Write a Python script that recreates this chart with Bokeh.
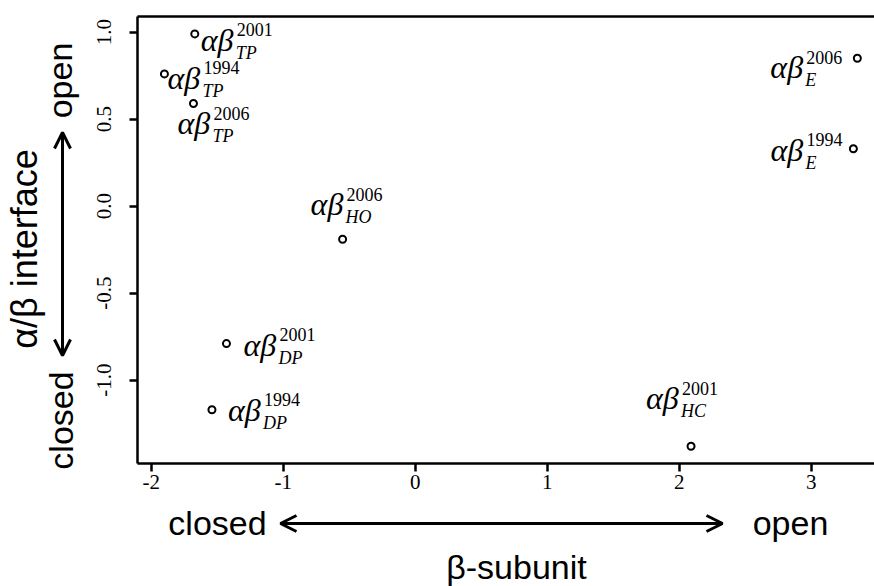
import math
from bokeh.plotting import figure
from bokeh.layouts import row, column
from bokeh.models import ColumnDataSource, Range1d, LinearAxis, FixedTicker, Label, Arrow, OpenHead
from bokeh.core.properties import value
from bokeh.embed import file_html
from bokeh.resources import INLINE

# ---------------- data ----------------
complex_names = ["TP", "TP", "TP", "E", "E", "HO", "HC", "DP", "DP"]
years = ["2001", "1994", "2006", "2006", "1994", "2006", "2001", "2001", "1994"]
beta_subunit = [-1.67, -1.90, -1.68, 3.35, 3.32, -0.55, 2.09, -1.43, -1.54]
ab_interface = [0.99, 0.76, 0.59, 0.85, 0.33, -0.19, -1.38, -0.79, -1.17]
x_ticks = [-2, -1, 0, 1, 2, 3]
x_tick_labels = ["-2", "-1", "0", "1", "2", "3"]
y_ticks = [-1.0, -0.5, 0.0, 0.5, 1.0]
y_tick_labels = ["-1.0", "-0.5", "0.0", "0.5", "1.0"]

# ---------------- label placement (pixel offsets of the "αβ" anchor) ----------------
label_dx = [6, 3, -16, -87, -83, -32, -45, 17, 16]
label_dy = [15, 13, 29, 18, 10, -26, -39, 10, 9]
AB_SIZE, SS_SIZE = 32, 18
AB_FIX, SS_FIX = -9, -5          # baseline corrections for the text renderer
SUP_DX, SUP_DY = 36, -14
SUB_DX, SUB_DY = 35, 9

# ---------------- page geometry ----------------
W, H = 874, 586
LEFT_W = 80              # strip with the vertical arrow
MAIN_H = 500             # main plot height; strip with horizontal arrow below
FL, FT, FB = 137, 16, 463
X0, X1 = -2.104, 3.480
Y0, Y1 = -1.479, 1.090

main = figure(width=W - LEFT_W, height=MAIN_H, x_range=Range1d(X0, X1), y_range=Range1d(Y0, Y1),
              output_backend="svg", toolbar_location=None,
              min_border_left=FL - LEFT_W, min_border_right=0, min_border_top=FT,
              min_border_bottom=MAIN_H - FB)
main.outline_line_color = None
main.xgrid.visible = False
main.ygrid.visible = False

for ax in (main.xaxis[0], main.yaxis[0]):
    ax.axis_line_width = 2.5
    ax.axis_line_color = "black"
    ax.major_tick_line_width = 2.5
    ax.major_tick_line_color = "black"
    ax.major_tick_out = 8
    ax.major_tick_in = 0
    ax.minor_tick_line_color = None
    ax.major_label_text_font = "Liberation Serif"
    ax.major_label_text_font_size = "21px"
    ax.major_label_text_color = "black"

main.xaxis.ticker = FixedTicker(ticks=x_ticks)
main.xaxis.major_label_overrides = {t: s for t, s in zip(x_ticks, x_tick_labels)}
main.xaxis.major_label_standoff = 3
main.yaxis.ticker = FixedTicker(ticks=y_ticks)
main.yaxis.major_label_overrides = {t: s for t, s in zip(y_ticks, y_tick_labels)}
main.yaxis.major_label_orientation = "vertical"
main.yaxis.major_label_standoff = 18

top = LinearAxis(ticker=FixedTicker(ticks=[]), major_label_text_font_size="0px",
                 axis_line_width=2.5, axis_line_color="black",
                 major_tick_line_color=None, minor_tick_line_color=None)
main.add_layout(top, "above")

# ---------------- points and labels ----------------
src = ColumnDataSource(dict(
    x=beta_subunit, y=ab_interface,
    ab=["αβ"] * len(years), sup=years, sub=complex_names,
    dx=label_dx, dy=[d + AB_FIX for d in label_dy],
    sup_dx=[d + SUP_DX for d in label_dx], sup_dy=[d + SUP_DY + SS_FIX for d in label_dy],
    sub_dx=[d + SUB_DX for d in label_dx], sub_dy=[d + SUB_DY + SS_FIX for d in label_dy],
))

main.scatter("x", "y", source=src, marker="circle", size=7, fill_color="white",
             line_color="black", line_width=2)
main.text("x", "y", text="ab", source=src, x_offset="dx", y_offset="dy",
          text_font=value("Liberation Serif"), text_font_style="italic",
          text_font_size=f"{AB_SIZE}px", text_align="left", text_baseline="alphabetic",
          text_color="black")
main.text("x", "y", text="sup", source=src, x_offset="sup_dx", y_offset="sup_dy",
          text_font=value("Liberation Serif"), text_font_style="normal",
          text_font_size=f"{SS_SIZE}px", text_align="left", text_baseline="alphabetic",
          text_color="black")
main.text("x", "y", text="sub", source=src, x_offset="sub_dx", y_offset="sub_dy",
          text_font=value("Liberation Serif"), text_font_style="italic",
          text_font_size=f"{SS_SIZE}px", text_align="left", text_baseline="alphabetic",
          text_color="black")

SANS = "Liberation Sans"


def strip(width, height, x_start, x_end, border_left):
    f = figure(width=width, height=height, x_range=Range1d(x_start, x_end),
               y_range=Range1d(0, height),
               output_backend="svg", toolbar_location=None,
               x_axis_location=None, y_axis_location=None,
               min_border=0, min_border_left=border_left, min_border_right=0,
               min_border_top=0, min_border_bottom=0)
    f.outline_line_color = None
    f.grid.visible = False
    return f


def add_label(f, top_py, px, py, text, size, rotated=False):
    # px, py: wanted page position of the text's baseline centre
    fix = 0.35 * size
    if rotated:
        x, y, angle = px - fix, f.height - (py - top_py), math.pi / 2
    else:
        x, y, angle = px, f.height - (py - top_py) + fix, 0.0
    f.add_layout(Label(x=x, y=y, text=text, angle=angle,
                       text_font=SANS, text_font_size=f"{size}px", text_color="black",
                       text_align="center", text_baseline="alphabetic"))


def add_arrow(f, top_py, x1, y1, x2, y2):
    f.add_layout(Arrow(x_start=x1, y_start=f.height - (y1 - top_py),
                       x_end=x2, y_end=f.height - (y2 - top_py),
                       line_width=3, line_color="black",
                       start=OpenHead(size=16, line_width=3, line_color="black"),
                       end=OpenHead(size=16, line_width=3, line_color="black")))


# left strip: page x 0..LEFT_W, page y 0..H
left = strip(LEFT_W, H, 0, LEFT_W, 0)
add_label(left, 0, 37, 248.5, "α/β interface", 36, rotated=True)
add_label(left, 0, 71, 80, "open", 34, rotated=True)
add_label(left, 0, 72, 420, "closed", 34, rotated=True)
add_arrow(left, 0, 62, 355, 62, 132)

# bottom strip: page y MAIN_H..H; its frame is aligned with the main frame (page x FL..W)
bottom = strip(W - LEFT_W, H - MAIN_H, FL, W, FL - LEFT_W)
add_label(bottom, MAIN_H, 516, 578, "β-subunit", 34)
add_label(bottom, MAIN_H, 217, 534, "closed", 34)
add_label(bottom, MAIN_H, 790, 534, "open", 34)
add_arrow(bottom, MAIN_H, 280, 523, 722, 523)

layout = row(left, column(main, bottom, spacing=0), spacing=0)
open("out.html", "w").write(file_html(layout, INLINE))
